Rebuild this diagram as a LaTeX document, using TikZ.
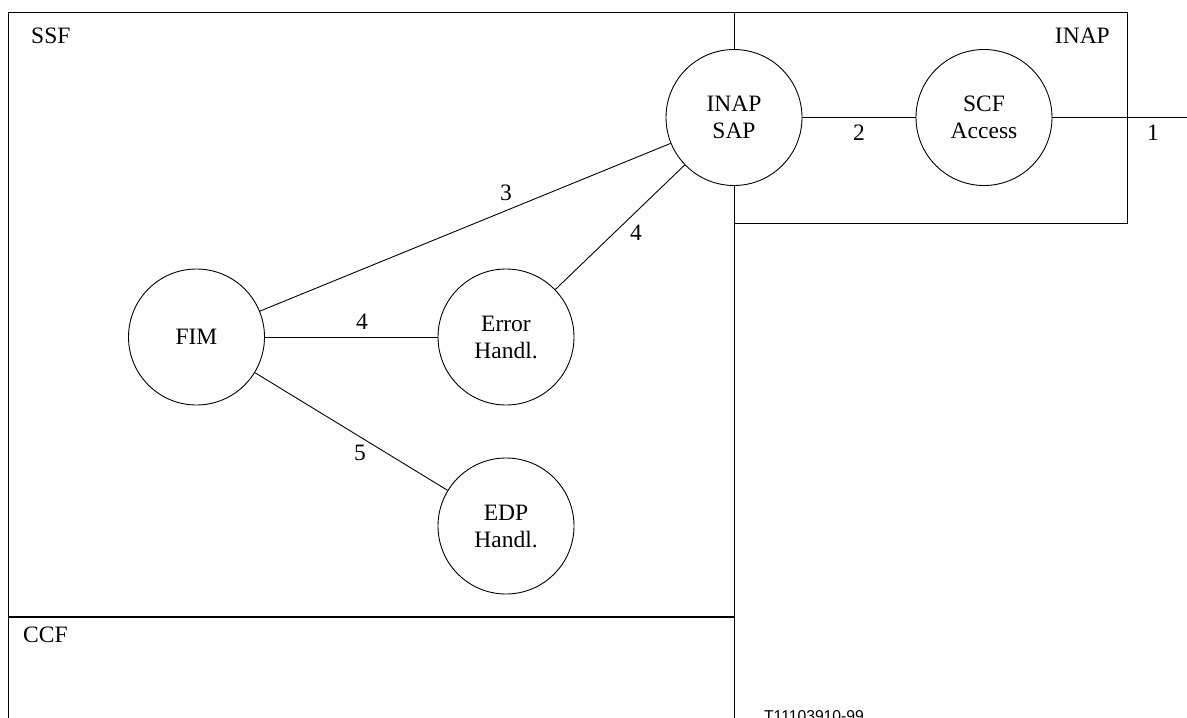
\documentclass[tikz,border=0pt]{standalone}
\usepackage{fontspec}
\setmainfont{Liberation Serif}
\newfontfamily\labelsans{Liberation Sans}
\begin{document}
\begin{tikzpicture}[x=1pt,y=-1pt,
  every node/.style={font=\fontsize{23.5}{27}\selectfont},
  func/.style={draw,circle,fill=white,minimum size=136pt,inner sep=0pt,align=center,line width=0.9pt},
  frame/.style={line width=0.9pt},
  link/.style={line width=0.9pt},
  num/.style={inner sep=0pt}]
\useasboundingbox (0,0) rectangle (1187,718);
% functional blocks: SSF, CCF and INAP areas
\draw[frame] (8,718) -- (8,12) -- (1127,12) -- (1127,223) -- (734,223);
\draw[frame] (734,12) -- (734,718);
\draw[line width=1.8pt] (8,617) -- (734,617);
\node[anchor=base west,inner sep=0pt] (ssf) at (31,43) {SSF};
\node[anchor=base east,inner sep=0pt] (inap) at (1110,43) {INAP};
\node[anchor=base west,inner sep=0pt] (ccf) at (23,642) {CCF};
% entities
\node[func] (sap) at (734,117.5) {INAP\\SAP};
\node[func] (scf) at (984,117.5) {SCF\\Access};
\node[func] (fim) at (196.5,337) {FIM};
\node[func] (err) at (506,337) {Error\\Handl.};
\node[func] (edp) at (506,526) {EDP\\Handl.};
\coordinate (out) at (1187,117.5);
% relationships
\draw[link] (sap) -- (scf);
\draw[link] (scf) -- (out);
\draw[link] (fim) -- (sap);
\draw[link] (err) -- (sap);
\draw[link] (fim) -- (err);
\draw[link] (fim) -- (edp);
% relationship numbers
\node[num] (n1) at (1153,133) {1};
\node[num] (n2) at (859,133) {2};
\node[num] (n3) at (506,193) {3};
\node[num] (n4a) at (636,233) {4};
\node[num] (n4b) at (362,322) {4};
\node[num] (n5) at (360,453) {5};
\node[font=\labelsans\fontsize{15.7}{18}\selectfont,anchor=base,inner sep=0pt] (ref) at (814,721) {T11103910-99};
\end{tikzpicture}
\end{document}
